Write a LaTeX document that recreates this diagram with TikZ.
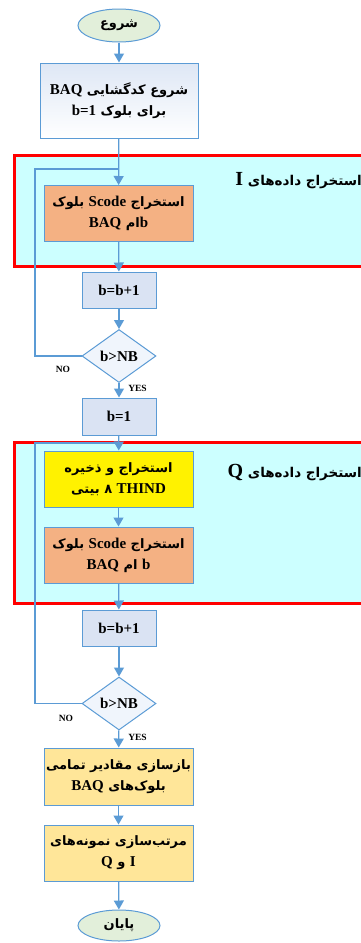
\documentclass[tikz,border=0pt]{standalone}
\usepackage{fontspec}
\setmainfont{Liberation Serif}
\newfontfamily\fafont[Script=Arabic]{DejaVu Sans}
\TeXXeTstate=1
\usetikzlibrary{shapes.geometric,arrows.meta,shadows}
\definecolor{lineblue}{RGB}{91,155,213}
\definecolor{ellfill}{RGB}{226,239,218}
\definecolor{initblue}{RGB}{222,231,245}
\definecolor{orangefill}{RGB}{244,177,131}
\definecolor{smallfill}{RGB}{218,227,243}
\definecolor{goldfill}{RGB}{255,230,153}
\definecolor{cyanbg}{RGB}{204,255,255}
\definecolor{diafill}{RGB}{240,245,252}
\newcommand\fa[1]{{\fafont\bfseries\fontsize{13}{21}\selectfont\beginR #1\endR}}
\newcommand\fb[1]{{\fafont\bfseries\fontsize{13.5}{21}\selectfont\beginR #1\endR}}
\newcommand\la[1]{\beginL{\rmfamily\bfseries\fontsize{15}{21}\selectfont #1}\endL{}}
\newcommand\lb[1]{\beginL{\rmfamily\bfseries\fontsize{20}{21}\selectfont #1}\endL{}}
\tikzset{
  basebox/.style={draw=lineblue, line width=1pt, inner sep=0pt, align=center,
    font=\rmfamily\bfseries\fontsize{15}{21}\selectfont},
  wide/.style={basebox, minimum width=149pt, minimum height=56pt},
  small/.style={basebox, fill=smallfill, minimum width=74pt, minimum height=36pt},
  terminal/.style={basebox, ellipse, fill=ellfill, minimum width=82pt, minimum height=33pt},
  decision/.style={basebox, diamond, fill=diafill, minimum width=74pt, minimum height=53pt},
  group/.style={draw=red, line width=3pt, fill=cyanbg, inner sep=0pt,
    drop shadow={shadow xshift=1pt, shadow yshift=-2pt, opacity=0.2}},
  lab/.style={inner sep=0pt, font=\rmfamily\bfseries\fontsize{9.5}{11}\selectfont},
  conn/.style={draw=lineblue, line width=1.3pt, -{Triangle[width=10pt,length=9pt]}},
  loopline/.style={draw=lineblue, line width=1.3pt},
}
\begin{document}
\begin{tikzpicture}[x=1pt,y=-1pt]
\useasboundingbox (0,0) rectangle (361,943);
% groups
\node[group, minimum width=361pt, minimum height=111pt] (grpI) at (195,210.5) {};
\node[group, minimum width=361pt, minimum height=161pt] (grpQ) at (195,522.5) {};
\node[anchor=east, inner sep=0pt, font=\rmfamily\bfseries\fontsize{20}{24}\selectfont] (lblI) at (362,181) {\fb{استخراج داده^^^^200cهای \lb{I}}};
\node[anchor=east, inner sep=0pt, font=\rmfamily\bfseries\fontsize{20}{24}\selectfont] (lblQ) at (362,473) {\fb{استخراج داده^^^^200cهای \lb{Q}}};
% nodes
\node[terminal] (start) at (119,25.5) {\fa{شروع}};
\node[basebox, minimum width=158pt, minimum height=75pt, top color=initblue, bottom color=white] (init) at (119,100.5)
  {\fa{شروع کدگشایی \la{BAQ}}\\ \fa{برای بلوک \la{b=1}}};
\node[wide, fill=orangefill] (scodeI) at (118.5,213.5)
  {\fa{استخراج \la{Scode} بلوک}\\ \fa{\la{b}ام \la{BAQ}}};
\node[small] (inc1) at (119,290) {b=b+1};
\node[decision] (dec1) at (119,356) {b>NB};
\node[small, minimum height=37pt] (b1) at (119,416.5) {b=1};
\node[wide, fill=yellow] (thind) at (118.5,479)
  {\fa{استخراج و ذخیره}\\ \fa{\la{THIND} ۸ بیتی}};
\node[wide, fill=orangefill] (scodeQ) at (118.5,555)
  {\fa{استخراج \la{Scode} بلوک}\\ \fa{\la{b} ام \la{BAQ}}};
\node[small] (inc2) at (119,628) {b=b+1};
\node[decision] (dec2) at (119,703.5) {b>NB};
\node[wide, fill=goldfill, minimum height=57pt] (rebuild) at (118.5,776.5)
  {\fa{بازسازی  مقادیر تمامی}\\ \fa{بلوک^^^^200cهای \la{BAQ}}};
\node[wide, fill=goldfill] (sort) at (118.5,853)
  {\fa{مرتب^^^^200cسازی نمونه^^^^200cهای}\\ \fa{\la{I} و \la{Q}}};
\node[terminal, minimum height=31pt] (end) at (119,925.5) {\fa{پایان}};
% labels
\node[lab] (no1) at (63,369) {NO};
\node[lab] (yes1) at (137.5,388) {YES};
\node[lab] (no2) at (66,718.5) {NO};
\node[lab] (yes2) at (137.5,737.5) {YES};
% loop coordinates
\coordinate (j1) at (119,169);
\coordinate (c1) at (35,169);
\coordinate (j2) at (119,443);
\coordinate (c2) at (35,443);
% loops
\draw[loopline] (dec1.west) -| (c1) -- (j1);
\draw[loopline] (dec2.west) -| (c2) -- (j2);
% connectors
\draw[conn] (start) -- (init);
\draw[conn] (init) -- (scodeI);
\draw[conn] (scodeI) -- (inc1);
\draw[conn] (inc1) -- (dec1);
\draw[conn] (dec1) -- (b1);
\draw[conn] (b1) -- (thind);
\draw[conn] (thind) -- (scodeQ);
\draw[conn] (scodeQ) -- (inc2);
\draw[conn] (inc2) -- (dec2);
\draw[conn] (dec2) -- (rebuild);
\draw[conn] (rebuild) -- (sort);
\draw[conn] (sort) -- (end);
\end{tikzpicture}
\end{document}
